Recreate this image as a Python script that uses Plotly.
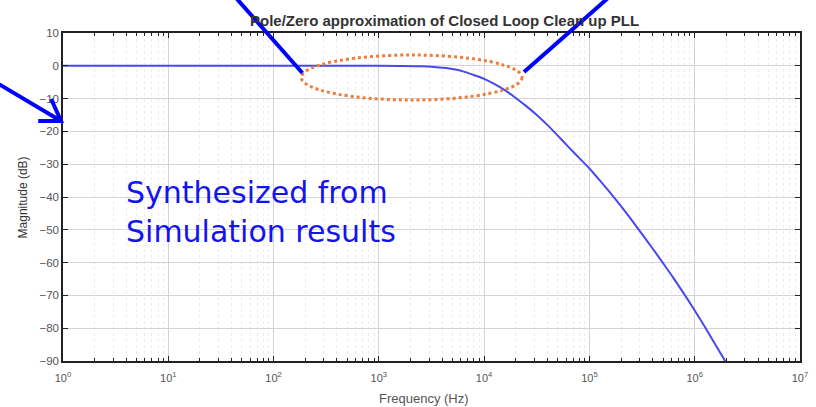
import plotly.graph_objects as go

# ---- data ----
freq_hz = [1, 10, 100, 1000, 1585, 2512, 3162, 3981, 5012, 6310, 7943,
           10000, 12589, 15849, 19953, 25119, 31623, 39811, 50119, 63096, 79433,
           100000, 125893, 158489, 199526, 251189, 316228, 398107, 501187, 630957, 794328,
           1000000, 1258925, 1584893, 1995262]
mag_db = [0, 0, 0, 0, -0.05, -0.15, -0.3, -0.6, -1.0, -1.7, -2.8,
          -4.0, -5.6, -7.5, -9.8, -12.3, -15.0, -18.0, -21.3, -24.7, -28.0,
          -31.3, -35.0, -38.8, -42.8, -47.0, -51.3, -55.7, -60.2, -64.8, -69.6,
          -74.6, -79.8, -85.2, -90.6]

x_tick_vals = [1, 10, 100, 1000, 10000, 100000, 1000000, 10000000]
x_tick_text = ["10<sup>0</sup>", "10<sup>1</sup>", "10<sup>2</sup>", "10<sup>3</sup>",
               "10<sup>4</sup>", "10<sup>5</sup>", "10<sup>6</sup>", "10<sup>7</sup>"]
y_tick_vals = [10, 0, -10, -20, -30, -40, -50, -60, -70, -80, -90]

title_text = "Pole/Zero approximation of Closed Loop Clean up PLL"
x_label = "Frequency (Hz)"
y_label = "Magnitude (dB)"
note_lines = ["Synthesized from", "Simulation results"]

# minor ticks 2..9 in each decade
minor_vals = [m * 10 ** d for d in range(0, 7) for m in range(2, 10)]

W, H = 816, 407
L, R, T, B = 63, 8, 33, 46
PW, PH = W - L - R, H - T - B


def px(x):
    return (x - L) / PW


def py(y):
    return (H - B - y) / PH


fig = go.Figure()
fig.add_trace(go.Scatter(
    x=freq_hz, y=mag_db, mode="lines",
    line=dict(color="rgb(72,72,240)", width=2, shape="spline", smoothing=0.8),
    hoverinfo="skip", showlegend=False,
))

axis_common = dict(
    showline=True, linecolor="#222", linewidth=1.5, mirror="allticks",
    ticks="inside", tickcolor="#222", ticklen=5,
    zeroline=False,
)

fig.update_xaxes(
    type="log", range=[0, 7],
    tickmode="array", tickvals=x_tick_vals, ticktext=x_tick_text,
    tickfont=dict(family="Liberation Sans", size=11, color="#555"),
    ticklabelstandoff=6,
    showgrid=True, gridcolor="#d4d4d4", gridwidth=1,
    minor=dict(tickmode="array", tickvals=minor_vals, ticks="inside", ticklen=3,
               tickcolor="#222", showgrid=True, gridcolor="#ececec", griddash="dot"),
    **axis_common,
)
fig.update_yaxes(
    range=[-90, 10], tickmode="array", tickvals=y_tick_vals,
    tickfont=dict(family="Liberation Sans", size=11.5, color="#555"),
    showgrid=True, gridcolor="#d4d4d4", gridwidth=1,
    **axis_common,
)

annotations = [
    dict(text="<b>" + title_text + "</b>", xref="paper", yref="paper",
         x=px(449), y=py(20), xanchor="center", yanchor="middle", showarrow=False,
         font=dict(family="Liberation Sans", size=15, color="#333")),
    dict(text=x_label, xref="paper", yref="paper", x=px(428), y=py(398),
         xanchor="center", yanchor="middle", showarrow=False,
         font=dict(family="Liberation Sans", size=13, color="#555")),
    dict(text=y_label, xref="paper", yref="paper", x=px(23), y=py(197),
         xanchor="center", yanchor="middle", showarrow=False, textangle=-90,
         font=dict(family="Liberation Sans", size=12, color="#333")),
    dict(text="<br>".join(note_lines), xref="paper", yref="paper", x=px(125), y=py(212),
         xanchor="left", yanchor="middle", align="left", showarrow=False,
         font=dict(family="DejaVu Sans", size=30, color="#1414f0")),
]

shapes = [
    # orange dotted ellipse
    dict(type="circle", xref="paper", yref="paper",
         x0=px(304), x1=px(527), y0=py(55), y1=py(100),
         line=dict(color="#ee7d3a", width=3, dash="dot")),
    # blue pointer lines
    dict(type="line", xref="paper", yref="paper", x0=px(238), y0=py(-2), x1=px(305), y1=py(73),
         line=dict(color="#0000ff", width=4)),
    dict(type="line", xref="paper", yref="paper", x0=px(614), y0=py(-2), x1=px(529), y1=py(72),
         line=dict(color="#0000ff", width=4)),
    dict(type="path", xref="paper", yref="paper",
         path=f"M {px(-2)},{py(84)} L {px(61)},{py(121)} M {px(38)},{py(121)} L {px(61)},{py(121)} L {px(51)},{py(99)}",
         line=dict(color="#0000ff", width=4)),
]

fig.update_layout(
    width=W, height=H,
    margin=dict(l=L, r=R, t=T, b=B),
    paper_bgcolor="white", plot_bgcolor="white",
    annotations=annotations, shapes=shapes,
    showlegend=False,
)

fig.write_html("out.html")
